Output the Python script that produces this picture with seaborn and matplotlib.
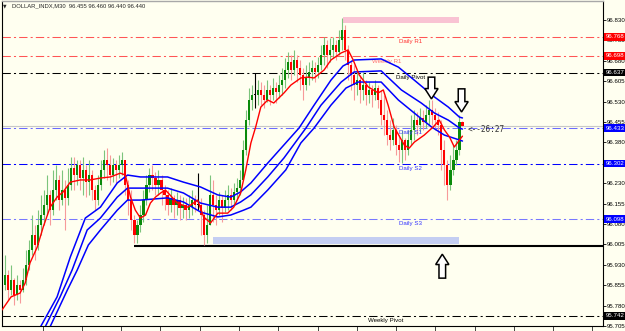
import matplotlib
matplotlib.use("Agg")
import matplotlib.pyplot as plt
import seaborn as sns
import numpy as np
from matplotlib.patches import Polygon, Rectangle

sns.set_style("white")
plt.rcParams['font.family'] = ['Liberation Sans', 'DejaVu Sans']

# ---------------- data ----------------
symbol_title = "DOLLAR_INDX,M30  96.455 96.460 96.440 96.440"
first_open = 95.856
closes = [
    95.893, 95.837, 95.874, 95.819, 95.856, 95.837, 95.874, 95.929, 95.984, 96.040,
    96.003, 96.076, 96.113, 96.150, 96.187, 96.131, 96.205, 96.242, 96.168, 96.205,
    96.176, 96.223, 96.286, 96.260, 96.297, 96.249, 96.279, 96.234, 96.260, 96.205,
    96.168, 96.223, 96.279, 96.315, 96.297, 96.260, 96.297, 96.279, 96.297, 96.315,
    96.223, 96.168, 96.095, 96.040, 96.076, 96.113, 96.168, 96.223, 96.260, 96.249,
    96.223, 96.242, 96.205, 96.187, 96.150, 96.176, 96.150, 96.168, 96.139, 96.150,
    96.131, 96.142, 96.168, 96.150, 96.150, 96.113, 96.040, 96.076, 96.187, 96.150,
    96.131, 96.168, 96.139, 96.168, 96.187, 96.168, 96.198, 96.212, 96.242, 96.352,
    96.462, 96.536, 96.554, 96.554, 96.573, 96.554, 96.536, 96.573, 96.554, 96.580,
    96.565, 96.591, 96.609, 96.646, 96.676, 96.646, 96.683, 96.653, 96.628, 96.591,
    96.617, 96.639, 96.653, 96.639, 96.665, 96.701, 96.738, 96.701, 96.720, 96.738,
    96.712, 96.756, 96.793, 96.720, 96.665, 96.628, 96.591, 96.609, 96.573, 96.591,
    96.554, 96.573, 96.554, 96.580, 96.536, 96.481, 96.462, 96.407, 96.389, 96.426,
    96.370, 96.352, 96.389, 96.352, 96.389, 96.426, 96.462, 96.444, 96.470, 96.455,
    96.481, 96.499, 96.481, 96.462, 96.444, 96.352, 96.297, 96.223, 96.279, 96.315,
    96.352, 96.455, 96.440]
highs = [
    95.966, 95.911, 95.929, 95.881, 95.893, 95.874, 95.918, 95.984, 96.021, 96.113,
    96.076, 96.131, 96.187, 96.205, 96.260, 96.205, 96.279, 96.297, 96.260, 96.279,
    96.242, 96.286, 96.326, 96.326, 96.315, 96.315, 96.326, 96.297, 96.315, 96.279,
    96.223, 96.260, 96.315, 96.352, 96.359, 96.334, 96.323, 96.315, 96.334, 96.345,
    96.315, 96.242, 96.205, 96.113, 96.095, 96.150, 96.205, 96.260, 96.286, 96.297,
    96.271, 96.279, 96.260, 96.223, 96.205, 96.212, 96.187, 96.198, 96.187, 96.179,
    96.176, 96.187, 96.205, 96.187, 96.267, 96.176, 96.131, 96.150, 96.260, 96.242,
    96.187, 96.198, 96.187, 96.205, 96.223, 96.212, 96.231, 96.249, 96.279, 96.389,
    96.499, 96.580, 96.591, 96.635, 96.609, 96.602, 96.591, 96.609, 96.591, 96.617,
    96.602, 96.628, 96.653, 96.690, 96.712, 96.701, 96.720, 96.701, 96.683, 96.653,
    96.665, 96.676, 96.683, 96.676, 96.694, 96.738, 96.767, 96.756, 96.764, 96.767,
    96.756, 96.793, 96.837, 96.812, 96.738, 96.683, 96.665, 96.646, 96.628, 96.639,
    96.609, 96.602, 96.591, 96.609, 96.591, 96.573, 96.554, 96.499, 96.462, 96.470,
    96.444, 96.407, 96.426, 96.396, 96.426, 96.481, 96.499, 96.492, 96.506, 96.499,
    96.517, 96.536, 96.536, 96.506, 96.492, 96.462, 96.389, 96.315, 96.334, 96.370,
    96.389, 96.481, 96.460]
lows = [
    95.837, 95.801, 95.819, 95.782, 95.801, 95.790, 95.830, 95.856, 95.911, 95.966,
    95.948, 95.984, 96.040, 96.076, 96.113, 96.076, 96.113, 96.168, 96.131, 96.150,
    96.058, 96.150, 96.205, 96.205, 96.223, 96.205, 96.187, 96.179, 96.187, 96.168,
    96.131, 96.150, 96.205, 96.249, 96.242, 96.223, 96.234, 96.231, 96.249, 96.260,
    96.187, 96.113, 96.058, 96.010, 96.010, 96.050, 96.087, 96.150, 96.198, 96.205,
    96.187, 96.187, 96.150, 96.131, 96.113, 96.124, 96.102, 96.113, 96.095, 96.102,
    96.095, 96.102, 96.113, 96.124, 96.131, 96.040, 96.003, 96.010, 96.076, 96.087,
    96.076, 96.113, 96.087, 96.124, 96.131, 96.131, 96.150, 96.168, 96.187, 96.242,
    96.334, 96.444, 96.499, 96.506, 96.517, 96.517, 96.506, 96.528, 96.517, 96.536,
    96.525, 96.543, 96.554, 96.580, 96.617, 96.609, 96.628, 96.602, 96.573, 96.536,
    96.573, 96.591, 96.609, 96.602, 96.617, 96.646, 96.665, 96.653, 96.676, 96.690,
    96.683, 96.701, 96.720, 96.683, 96.609, 96.573, 96.536, 96.554, 96.525, 96.536,
    96.517, 96.525, 96.510, 96.536, 96.506, 96.444, 96.407, 96.370, 96.352, 96.370,
    96.334, 96.308, 96.304, 96.315, 96.334, 96.370, 96.389, 96.407, 96.418, 96.426,
    96.433, 96.444, 96.444, 96.426, 96.407, 96.279, 96.223, 96.168, 96.205, 96.260,
    96.297, 96.334, 96.440]

# fast moving average (red)
red_ma_idx = [-1, 2, 5, 6.7, 8.3, 10.7, 12.7, 15, 17.3, 19.3, 21.7, 25, 28.3, 31.7, 35,
              38.3, 40, 41.7, 43.3, 45, 46.7, 48.3, 50, 51.7, 53.3, 57.3, 60.7, 64, 66,
              68.3, 70.7, 74, 76, 78.3, 80, 81.7, 83.3, 85, 87.3, 89.3, 92.7, 95, 98.3,
              100.7, 102.7, 106, 108.3, 111.7, 114, 115.7, 117.7, 120.7, 124, 125.7,
              127.3, 129.3, 132.7, 134.3, 136, 139.3, 142.3, 144.3, 146, 147.7, 149.3,
              151, 152]
red_ma_val = [95.764, 95.812, 95.826, 95.863, 95.937, 95.995, 96.069, 96.142, 96.179,
              96.198, 96.234, 96.242, 96.242, 96.249, 96.253, 96.267, 96.260, 96.179,
              96.131, 96.102, 96.113, 96.157, 96.179, 96.194, 96.205, 96.157, 96.142,
              96.168, 96.106, 96.084, 96.120, 96.120, 96.142, 96.194, 96.279, 96.378,
              96.437, 96.510, 96.536, 96.525, 96.562, 96.591, 96.617, 96.620, 96.617,
              96.646, 96.683, 96.709, 96.720, 96.683, 96.628, 96.584, 96.562, 96.573,
              96.517, 96.437, 96.370, 96.359, 96.381, 96.407, 96.437, 96.462, 96.426,
              96.400, 96.363, 96.389, 96.403]

# slow moving-average envelope (blue)
upper_idx = [10.3, 17.3, 21.7, 26.7, 31.7, 37.3, 40.7, 45, 54, 59.3, 65, 70.7, 75, 78.3,
             81.7, 87.3, 97.7, 102.7, 108.3, 112.3, 116, 125, 130.7, 136, 142.7, 147.3,
             151, 152]
upper_val = [95.672, 95.812, 95.959, 96.102, 96.142, 96.231, 96.260, 96.253, 96.253,
             96.234, 96.216, 96.187, 96.179, 96.198, 96.231, 96.304, 96.433, 96.517,
             96.609, 96.661, 96.683, 96.687, 96.657, 96.609, 96.547, 96.510, 96.473,
             96.470]
mid_idx = [12, 18.3, 22.3, 27.3, 31.7, 37.3, 40.7, 46, 54, 59.3, 65, 70.7, 75, 78.3,
           81.7, 87.3, 92.7, 100, 105, 111.7, 116, 125, 131.7, 138.3, 142.7, 147.3, 151,
           152]
mid_val = [95.672, 95.812, 95.911, 96.058, 96.102, 96.179, 96.212, 96.212, 96.212,
           96.194, 96.157, 96.142, 96.142, 96.161, 96.187, 96.253, 96.323, 96.433,
           96.517, 96.602, 96.639, 96.643, 96.573, 96.525, 96.488, 96.462, 96.433,
           96.429]
lower_idx = [13.7, 20.7, 24, 27.7, 31.7, 37.3, 40.7, 45, 54, 59.3, 65, 70.7, 75, 79.3,
             81.7, 87.3, 93.3, 98.3, 102.7, 108.3, 113.3, 117.3, 125, 130.7, 136, 141.7,
             146, 151, 152]
lower_val = [95.672, 95.837, 95.911, 96.003, 96.058, 96.131, 96.168, 96.168, 96.176,
             96.161, 96.124, 96.106, 96.113, 96.131, 96.142, 96.205, 96.279, 96.378,
             96.433, 96.517, 96.580, 96.602, 96.602, 96.536, 96.488, 96.437, 96.407,
             96.389, 96.385]

# pivot levels
level_vals = [96.768, 96.698, 96.637, 96.433, 96.302, 96.098, 95.742]
level_names = ["Daily R1", "Weekly R1", "Daily Pivot", "Daily S1", "Daily S2",
               "Daily S3", "Weekly Pivot"]
level_label_x = [131, 122, 130, 131, 131, 131, 120.7]
level_label_drop = [0.017, 0.021, 0.017, 0.017, 0.017, 0.017, 0.017]
level_line_colors = ["#FF5555", "#FF5555", "#000000", "#6A6AFF", "#0000FF", "#7878FF",
                     "#000000"]
level_text_colors = ["#FF3030", "#FF6F6F", "#000000", "#3434FF", "#3434FF", "#3434FF",
                     "#000000"]
level_box_colors = ["#FF0000", "#FF0000", "#000000", "#0000FF", "#0000FF", "#0000FF",
                    "#000000"]

support_level = 96.000
support_start = 42.7
bid_price = 96.440
pink_zone = [112.3, 151, 96.819, 96.840]
blue_zone = [69, 151, 96.005, 96.031]

arrow_x = [141.7, 151.7, 145.3]
arrow_tip = [96.540, 96.492, 95.969]
arrow_tail = [96.620, 96.577, 95.881]

timer_text = "<--26:27"
timer_x, timer_y = 153.6, 96.426

y_ticks = [95.705, 95.780, 95.855, 95.930, 96.005, 96.080, 96.155, 96.230, 96.305,
           96.380, 96.455, 96.530, 96.605, 96.680, 96.755, 96.830]
x_ticks = [12.5, 25.55, 38.6, 51.65, 64.7, 77.75, 90.8, 103.85, 116.9, 129.95, 143.0,
           156.05, 169.1, 182.15, 195.2]

# ---------------- figure ----------------
BG = "#FFFFF0"
fig = plt.figure(figsize=(6.25, 3.31), dpi=100, facecolor=BG)
ax = fig.add_axes([2 / 625, 5 / 331, 601 / 625, 325 / 331])
ax.set_facecolor(BG)

dash = (0, (8, 3, 2, 3))
for v, col in zip(level_vals, level_line_colors):
    ax.axhline(v, color=col, lw=0.75, ls=dash, zorder=1)
ax.axhline(bid_price, color="#C8C8C8", lw=0.8, zorder=0.9)

ax.add_patch(Rectangle((pink_zone[0], pink_zone[2]), pink_zone[1] - pink_zone[0],
                       pink_zone[3] - pink_zone[2], fc="#F9C3D3", ec="none", zorder=1))
ax.add_patch(Rectangle((blue_zone[0], blue_zone[2]), blue_zone[1] - blue_zone[0],
                       blue_zone[3] - blue_zone[2], fc="#C4CEF2", ec="none", zorder=1))
ax.hlines(support_level, support_start, 198.7, color="#000000", lw=1.5, zorder=2)

for v, name, lx, dy, tc in zip(level_vals, level_names, level_label_x, level_label_drop,
                               level_text_colors):
    ax.text(lx, v - dy, name, fontsize=4.4, color=tc, ha="left", va="center",
            zorder=4.5)

# candles
o = np.array([first_open] + closes[:-1])
c = np.array(closes)
h = np.array(highs)
l = np.array(lows)
x = np.arange(len(c))
body_cols, wick_cols = [], []
for oo, cc in zip(o, c):
    if cc > oo:
        body_cols.append("#0A8A0A"); wick_cols.append("#7CC47C")
    elif cc < oo:
        body_cols.append("#FF0000"); wick_cols.append("#F79A9A")
    else:
        body_cols.append("#000000"); wick_cols.append("#000000")
ax.vlines(x, l, h, colors=wick_cols, lw=0.8, zorder=3)
ax.bar(x, np.maximum(np.abs(c - o), 0.003), bottom=np.minimum(o, c), width=0.72,
       color=body_cols, linewidth=0, zorder=4)

# moving averages
for xi, yi in [(upper_idx, upper_val), (mid_idx, mid_val), (lower_idx, lower_val)]:
    sns.lineplot(x=xi, y=yi, ax=ax, color="#0000FF", linewidth=1.1, zorder=5)
sns.lineplot(x=red_ma_idx, y=red_ma_val, ax=ax, color="#FF0000", linewidth=1.0, zorder=6)

# arrows
hw, sw, hl = 2.2, 1.1, 0.038
for ax_x, tip, tail in zip(arrow_x, arrow_tip, arrow_tail):
    d = 1 if tail > tip else -1
    neck = tip + d * hl
    pts = [(ax_x - sw, tail), (ax_x + sw, tail), (ax_x + sw, neck), (ax_x + hw, neck),
           (ax_x, tip), (ax_x - hw, neck), (ax_x - sw, neck)]
    ax.add_patch(Polygon(pts, closed=True, fc="white", ec="black", lw=1.1, zorder=8))

ax.text(timer_x, timer_y, timer_text, fontsize=5.6, family="DejaVu Sans Mono",
        color="#333333", ha="left", va="center", zorder=7)

ax.set_xlim(-1, 198.7)
ax.set_ylim(95.705, 96.900)
ax.set_xlabel("")
ax.set_ylabel("")

ax.yaxis.tick_right()
ax.set_yticks(y_ticks)
ax.set_yticklabels([f"{v:.3f}" for v in y_ticks])
ax.tick_params(axis="y", direction="out", length=2.0, width=0.6, labelsize=4.4, pad=0.8,
               colors="black", right=True, left=False)
ax.set_xticks(x_ticks)
ax.set_xticklabels([])
ax.tick_params(axis="x", direction="out", length=3.5, width=0.6, bottom=True)

for s in ["left", "bottom", "right"]:
    ax.spines[s].set_color("black")
    ax.spines[s].set_linewidth(0.8)
    ax.spines[s].set_visible(True)
ax.spines["top"].set_color("#A8A8A8")
ax.spines["top"].set_linewidth(1.0)
ax.spines["top"].set_visible(True)

ytr = ax.get_yaxis_transform()
for v, bc in zip(level_vals, level_box_colors):
    ax.text(1.0040, v, f"{v:.3f}", transform=ytr, fontsize=4.4, color="white",
            ha="left", va="center", clip_on=False, zorder=20,
            bbox=dict(boxstyle="square,pad=0.2", fc=bc, ec="none"))

fig.text(3 / 625, 1 - 6 / 331, "\u25bc", fontsize=3.3, va="center", ha="left",
         family=["DejaVu Sans"])
fig.text(12 / 625, 1 - 6 / 331, symbol_title, fontsize=4.2, va="center", ha="left")

fig.savefig("out.png", dpi=100, facecolor=BG)
